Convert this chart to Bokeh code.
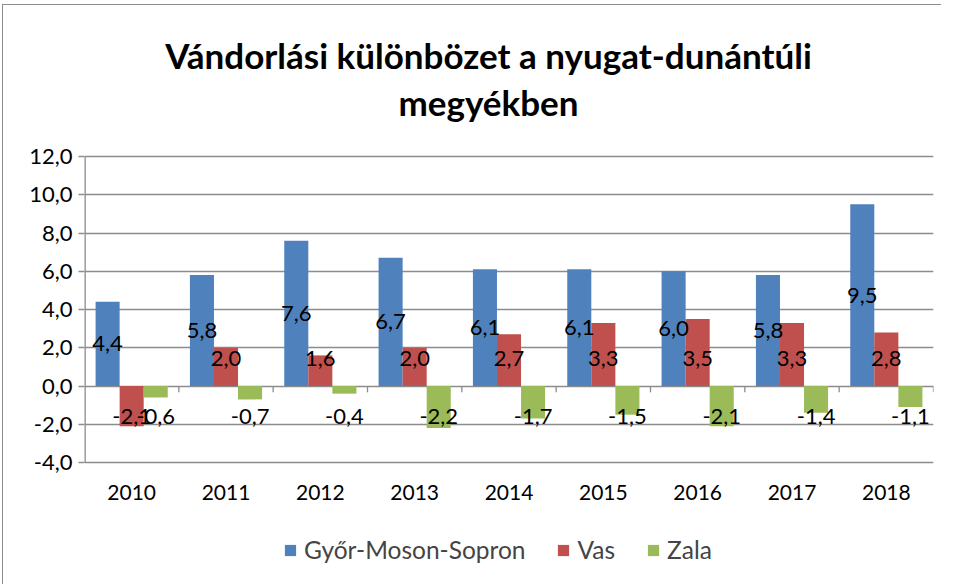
from bokeh.plotting import figure
from bokeh.models import (ColumnDataSource, FixedTicker, Legend, LegendItem)
from bokeh.core.properties import value
from bokeh.embed import file_html
from bokeh.resources import INLINE

years = ["2010", "2011", "2012", "2013", "2014", "2015", "2016", "2017", "2018"]
gyms = [4.4, 5.8, 7.6, 6.7, 6.1, 6.1, 6.0, 5.8, 9.5]
vas = [-2.1, 2.0, 1.6, 2.0, 2.7, 3.3, 3.5, 3.3, 2.8]
zala = [-0.6, -0.7, -0.4, -2.2, -1.7, -1.5, -2.1, -1.4, -1.1]
series_names = ["Győr-Moson-Sopron", "Vas", "Zala"]
y_ticks = [-4, -2, 0, 2, 4, 6, 8, 10, 12]
title_lines = ["Vándorlási különbözet a nyugat-dunántúli", "megyékben"]

colors = ["#4F81BD", "#C0504D", "#9BBB59"]
FONT = "Lato"
GRID = "#8c8c8c"

# layout (pixels)
FRAME_W = 849
AXIS_PX = 306            # pixel height of the value axis (-4 .. 12)
TOP_PAD = 137            # frame space above the 12,0 line (title area)
BOTTOM_PAD = 112         # frame space below the -4,0 line (year labels, legend)
y_lo, y_hi = min(y_ticks), max(y_ticks)
ppu = AXIS_PX / (y_hi - y_lo)
n = len(years)
ppc = FRAME_W / n


def fmt(v):
    return f"{v:.1f}".replace(".", ",")


p = figure(frame_width=FRAME_W, frame_height=AXIS_PX + TOP_PAD + BOTTOM_PAD,
           output_backend="svg", toolbar_location=None,
           x_range=(0, n), y_range=(y_lo - BOTTOM_PAD / ppu, y_hi + TOP_PAD / ppu),
           min_border_left=81, min_border_right=8, min_border_top=14,
           min_border_bottom=10, title=None)
p.margin = (4, 0, 0, 2)
p.styles = {"border-left": "1px solid #8c8c8c", "border-top": "1px solid #8c8c8c"}
p.outline_line_color = None
p.background_fill_color = "white"
p.border_fill_color = "white"

# title (two centred lines)
title_cx = (496 - 92) / ppc
title_y = [y_hi + (157 - 55) / ppu, y_hi + (157 - 102) / ppu]
p.text(x=[title_cx, title_cx], y=title_y, text=title_lines, text_align="center",
       text_baseline="middle", text_font=value(FONT), text_font_size="35px",
       text_font_style="bold", text_color="black")

centers = [i + 0.5 for i in range(n)]
bw = 0.255
offsets = [-bw, 0.0, bw]
all_series = [gyms, vas, zala]

renderers = []
for k, vals in enumerate(all_series):
    xs = [c + offsets[k] for c in centers]
    src = ColumnDataSource(dict(x=xs, top=vals))
    r = p.vbar(x="x", top="top", bottom=0, width=bw, source=src,
               fill_color=colors[k], line_color=None)
    renderers.append(r)


# data labels: blue centred in bar, others at fixed offsets from the zero line
def label_pos(v, k):
    if k == 0:
        return v / 2
    return 1.45 if v > 0 else -1.6


for k, vals in enumerate(all_series):
    xs = [c + offsets[k] for c in centers]
    src = ColumnDataSource(dict(x=xs, y=[label_pos(v, k) for v in vals],
                                t=[fmt(v) for v in vals]))
    p.text(x="x", y="y", text="t", source=src, text_align="center",
           text_baseline="middle", text_font=value(FONT),
           text_font_size="22px", text_color="black")

# category boundary ticks on the zero line
bounds = list(range(1, n + 1))
p.segment(x0=bounds, y0=[0] * len(bounds), x1=bounds, y1=[-0.33] * len(bounds),
          line_color=GRID, line_width=1.3)
# value axis line (only over the value range)
p.segment(x0=[0], y0=[y_lo], x1=[0], y1=[y_hi], line_color=GRID, line_width=2.6)

# axes
p.yaxis.ticker = FixedTicker(ticks=y_ticks)
p.yaxis.major_label_overrides = {t: fmt(t) for t in y_ticks}
p.yaxis.major_label_text_font = FONT
p.yaxis.major_label_text_font_size = "22px"
p.yaxis.major_label_text_color = "black"
p.yaxis.axis_line_color = None
p.yaxis.major_tick_line_color = GRID
p.yaxis.major_tick_line_width = 1.3
p.yaxis.major_tick_out = 6
p.yaxis.major_tick_in = 0
p.yaxis.minor_tick_line_color = None
p.yaxis.major_label_standoff = 6

p.xaxis.ticker = FixedTicker(ticks=centers)
p.xaxis.fixed_location = y_lo
p.xaxis.major_label_overrides = {c: y for c, y in zip(centers, years)}
p.xaxis.major_label_text_font = FONT
p.xaxis.major_label_text_font_size = "21px"
p.xaxis.major_label_text_color = "black"
p.xaxis.axis_line_color = None
p.xaxis.major_tick_line_color = None
p.xaxis.minor_tick_line_color = None
p.xaxis.major_label_standoff = 16

p.xgrid.grid_line_color = None
p.ygrid.ticker = FixedTicker(ticks=y_ticks)
p.ygrid.grid_line_color = GRID
p.ygrid.grid_line_width = 1.3

legend = Legend(items=[LegendItem(label=series_names[k], renderers=[renderers[k]])
                       for k in range(3)],
                orientation="horizontal", location=(199, 10),
                label_text_font=FONT, label_text_font_size="24.5px",
                glyph_width=14, glyph_height=14, label_standoff=7, spacing=31,
                padding=0, margin=0, border_line_color=None,
                background_fill_alpha=0)
p.add_layout(legend, "center")

open("out.html", "w").write(file_html(p, INLINE))
